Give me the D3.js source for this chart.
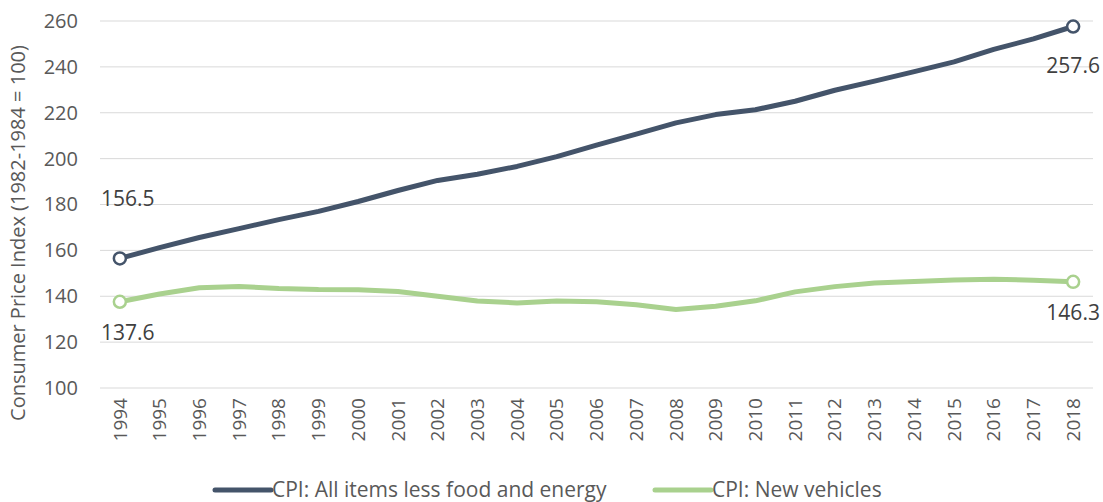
<!DOCTYPE html>
<html>
<head>
<meta charset="utf-8">
<script src="https://cdn.jsdelivr.net/npm/d3@7"></script>
<style>
  body { margin: 0; background: #fff; }
  text { font-family: "Open Sans", sans-serif; fill: #595959; }
</style>
</head>
<body>
<div id="chart"></div>
<script>
var years = ["1994","1995","1996","1997","1998","1999","2000","2001","2002","2003","2004","2005",
             "2006","2007","2008","2009","2010","2011","2012","2013","2014","2015","2016","2017","2018"];
var coreCpi = [156.5,161.2,165.6,169.5,173.4,177.0,181.3,186.1,190.5,193.2,196.6,200.9,
               205.9,210.7,215.6,219.2,221.3,225.0,229.8,233.8,237.9,242.2,247.6,252.2,257.6];
var vehicleCpi = [137.6,141.0,143.7,144.3,143.4,142.9,142.8,142.1,140.0,137.9,137.1,137.9,
                  137.6,136.3,134.2,135.6,138.0,141.9,144.2,145.8,146.4,147.1,147.4,147.0,146.3];
var yTicks = [100,120,140,160,180,200,220,240,260];
var seriesNames = ["CPI: All items less food and energy", "CPI: New vehicles"];
var colors = ["#44546A", "#A9D18E"];

var svgWidth = 1103, svgHeight = 502;
var margin = { top: 21, right: 10, bottom: 114, left: 100 };
var width = svgWidth - margin.left - margin.right;
var height = svgHeight - margin.top - margin.bottom;

var svg = d3.select("#chart").append("svg")
    .attr("width", svgWidth)
    .attr("height", svgHeight);

var g = svg.append("g")
    .attr("transform", `translate(${margin.left}, ${margin.top})`);

var x = d3.scaleBand().domain(years).range([0, width]);
var y = d3.scaleLinear().domain([100, 260]).range([height, 0]);

// gridlines
g.selectAll(".grid")
    .data(yTicks)
    .enter()
    .append("line")
    .attr("x1", 0)
    .attr("x2", width)
    .attr("y1", d => y(d))
    .attr("y2", d => y(d))
    .attr("stroke", "#d9d9d9")
    .attr("stroke-width", 1);

// y axis
var yAxis = g.append("g")
    .call(d3.axisLeft(y).tickValues(yTicks).tickSize(0).tickPadding(22));
yAxis.select(".domain").remove();
yAxis.selectAll("text")
    .style("font-size", "20px")
    .style("fill", "#595959")
    .style("font-family", "'Open Sans', sans-serif");

// x axis
var xAxis = g.append("g")
    .attr("transform", `translate(0, ${height})`)
    .call(d3.axisBottom(x).tickSize(0));
xAxis.select(".domain").remove();
xAxis.selectAll("text")
    .attr("transform", "rotate(-90)")
    .attr("x", -10)
    .attr("y", 0)
    .attr("dy", "0.35em")
    .style("text-anchor", "end")
    .style("font-size", "19px")
    .style("fill", "#595959")
    .style("font-family", "'Open Sans', sans-serif");

var cx = d => x(d) + x.bandwidth() / 2;
var allSeries = [coreCpi, vehicleCpi];

var line = d3.line()
    .x((d, i) => cx(years[i]))
    .y(d => y(d));

allSeries.forEach(function(vals, k) {
    g.append("path")
        .datum(vals)
        .attr("fill", "none")
        .attr("stroke", colors[k])
        .attr("stroke-width", 5)
        .attr("stroke-linejoin", "round")
        .attr("d", line);

    var last = vals.length - 1;
    [0, last].forEach(function(i) {
        g.append("circle")
            .attr("cx", cx(years[i]))
            .attr("cy", y(vals[i]))
            .attr("r", 6)
            .attr("fill", "#fff")
            .attr("stroke", colors[k])
            .attr("stroke-width", 2.5);
    });
});

// data labels
var labels = [
    { v: coreCpi[0], i: 0, dy: -52 },
    { v: vehicleCpi[0], i: 0, dy: 38 },
    { v: coreCpi[24], i: 24, dy: 46 },
    { v: vehicleCpi[24], i: 24, dy: 38 }
];
labels.forEach(function(l) {
    g.append("text")
        .attr("x", cx(years[l.i]) + (l.i === 0 ? 8 : 0))
        .attr("y", y(l.v) + l.dy)
        .attr("text-anchor", "middle")
        .style("font-size", "21px")
        .style("fill", "#404040")
        .text(d3.format(".1f")(l.v));
});

// y axis title
svg.append("text")
    .attr("transform", `translate(25, ${margin.top + 212}) rotate(-90)`)
    .attr("text-anchor", "middle")
    .style("font-size", "20px")
    .text("Consumer Price Index (1982-1984 = 100)");

// legend
var legendX = [215, 655];
seriesNames.forEach(function(name, k) {
    var lg = svg.append("g").attr("transform", `translate(${legendX[k]}, 490)`);
    lg.append("line")
        .attr("x1", 0).attr("x2", 56)
        .attr("y1", 0).attr("y2", 0)
        .attr("stroke", colors[k])
        .attr("stroke-width", 5)
        .attr("stroke-linecap", "round");
    lg.append("text")
        .attr("x", 57)
        .attr("y", 0)
        .attr("dy", "0.35em")
        .style("font-size", "21px")
        .text(name);
});
</script>
</body>
</html>
